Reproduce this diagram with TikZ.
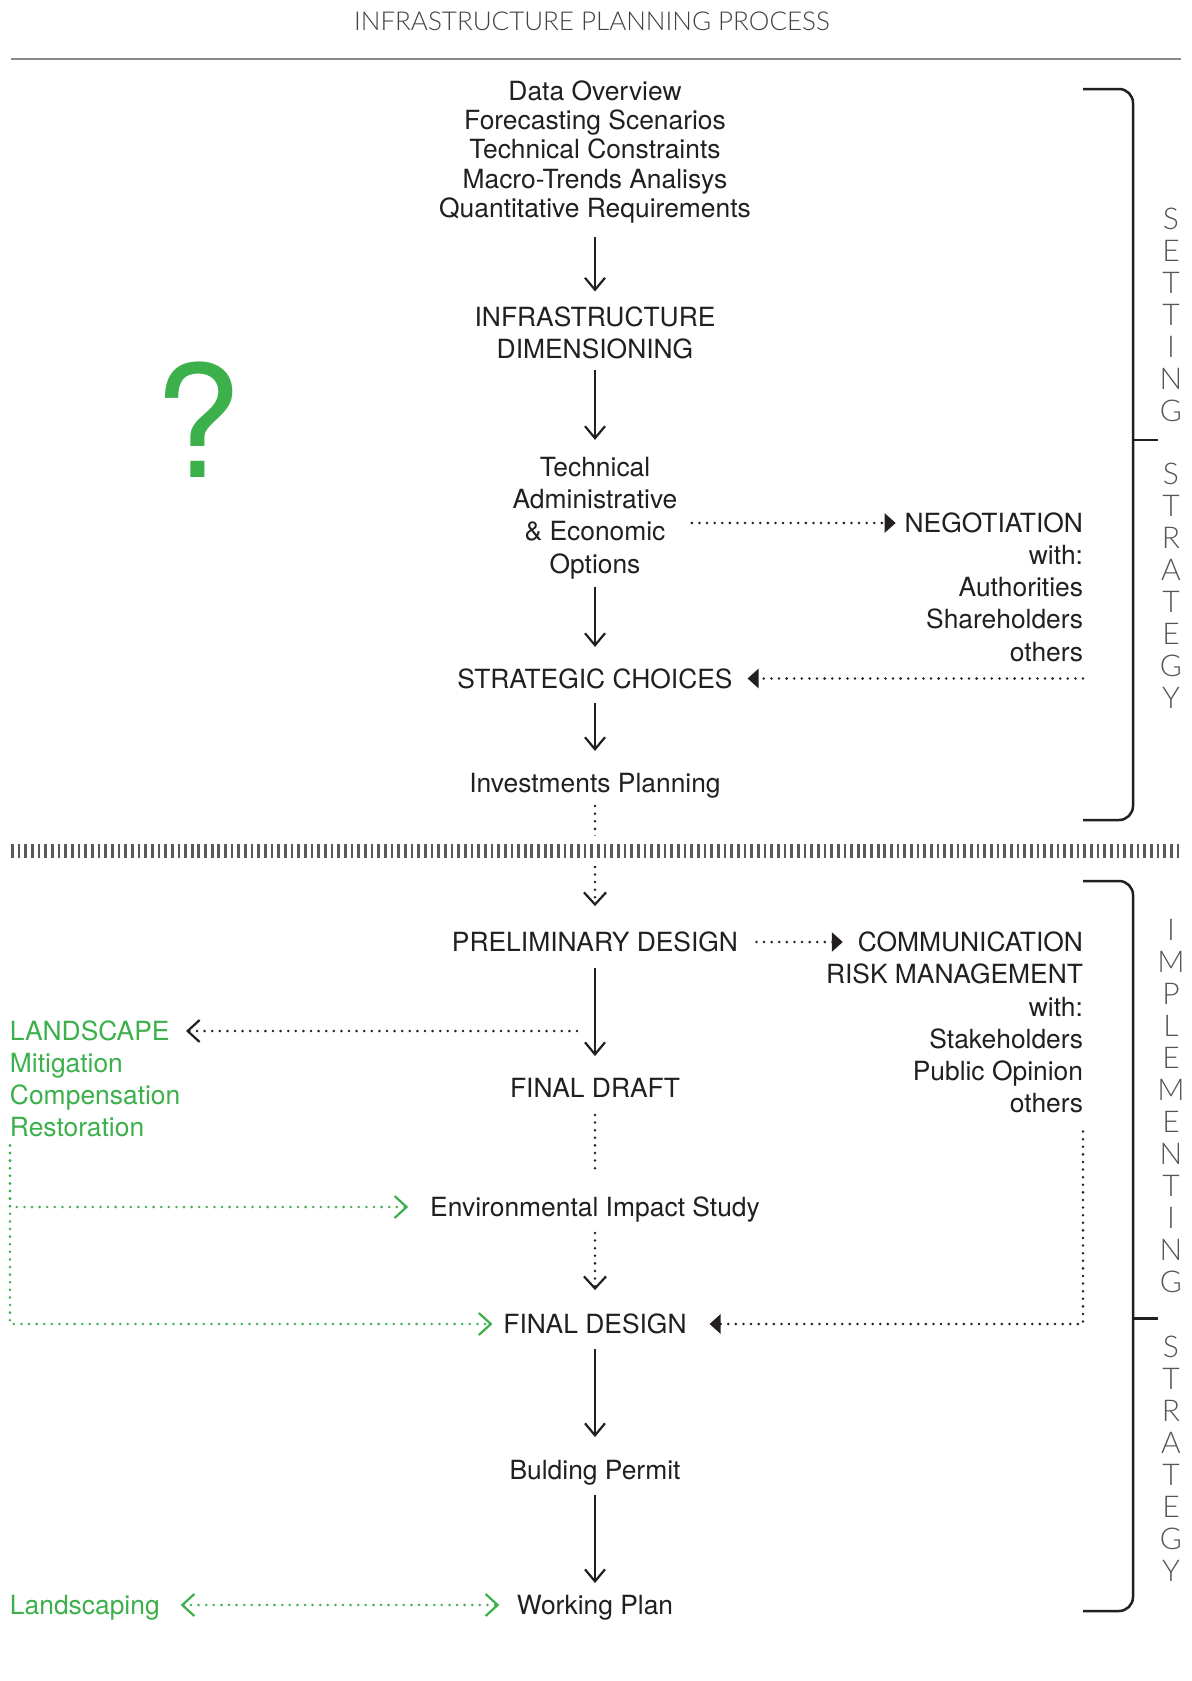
\documentclass[tikz,border=0pt]{standalone}
\usepackage{fontspec}
\setmainfont{TeX Gyre Heros}
\newfontfamily\thinfont{Lato Light}
\usetikzlibrary{arrows.meta}
\definecolor{ink}{HTML}{231F20}
\definecolor{leaf}{RGB}{60,176,75}
\definecolor{rulec}{HTML}{8A8A8A}
\definecolor{hatchc}{HTML}{5A5A5A}
\definecolor{sidec}{HTML}{555555}
\tikzset{
  txt/.style={inner sep=0pt, outer sep=0pt, text=ink, font={\fontsize{13.2}{16.1}\selectfont}},
  one/.style={txt, text height=9.75pt, text depth=0pt},
  multi/.style={txt, align=center},
  sidel/.style={inner sep=0pt, outer sep=0pt, align=center, text=sidec, font={\thinfont\fontsize{15}{16}\selectfont}},
  ttl/.style={inner sep=0pt, outer sep=0pt, text=ink!85, font={\thinfont\fontsize{13}{14}\selectfont}},
  qm/.style={inner sep=0pt, outer sep=0pt, text=leaf, font={\fontsize{78}{80}\selectfont}},
  arr/.style={draw=ink, line width=1.1pt, -{Straight Barb[length=6pt,width=10pt]}},
  dotl/.style={draw=ink, line width=1.4pt, line cap=round, dash pattern=on 0pt off 3.8pt},
  gdot/.style={draw=leaf, line width=1.4pt, line cap=round, dash pattern=on 0pt off 3.8pt},
  otip/.tip={Straight Barb[length=6pt,width=11pt,line width=1.1pt]},
  ftip/.tip={Triangle[length=5.5pt,width=9.5pt]},
  bracket/.style={draw=ink, line width=1.25pt, rounded corners=7pt}
}
\begin{document}
\begin{tikzpicture}[x=0.5pt,y=-0.5pt]
\useasboundingbox (0,0) rectangle (1191,1681);
\fill[white] (0,0) rectangle (1191,1681);

% title and top rule
\node[ttl] (title) at (592,21) {INFRASTRUCTURE PLANNING PROCESS};
\draw[rulec, line width=0.75pt] (11,59) -- (1181,59);

% upper part
\node[multi, font={\fontsize{13.2}{14.6}\selectfont}] (d1) at (595,152) {Data Overview\\Forecasting Scenarios\\Technical Constraints\\Macro-Trends Analisys\\Quantitative Requirements};
\node[multi] (dim) at (595,333) {INFRASTRUCTURE\\DIMENSIONING};
\node[multi] (opt) at (595,518) {Technical\\Administrative\\\& Economic\\Options};
\node[one] (sc) at (595,678.5) {STRATEGIC CHOICES};
\node[one] (inv) at (595,782.5) {Investments Planning};
\node[one, anchor=east] (neg) at (1083,523) {NEGOTIATION};
\node[multi, align=right, anchor=east] (negw) at (1083,603.3) {with:\\Authorities\\Shareholders\\others};
\node[qm] (q) at (198,420) {?};

\draw[arr, shorten <=6.7pt, shorten >=7.65pt] (d1) -- (dim);
\draw[arr, shorten <=5.6pt, shorten >=8.65pt] (dim) -- (opt);
\draw[arr, shorten <=4.3pt, shorten >=10.9pt] (opt) -- (sc);
\draw[arr, shorten <=7.4pt, shorten >=10.9pt] (sc) -- (inv);
\draw[dotl, -ftip, shorten <=7.25pt, shorten >=4.5pt] (opt.east |- neg) -- (neg.west);
\draw[dotl, -ftip, shorten >=7.5pt] (negw.east |- sc) -- (sc.east);

% lower part
\node[one] (pd) at (595,942) {PRELIMINARY DESIGN};
\node[one, anchor=east] (comm) at (1083,942) {COMMUNICATION};
\node[multi, align=right, anchor=east] (commw) at (1083,1038.7) {RISK MANAGEMENT\\with:\\Stakeholders\\Public Opinion\\others};
\node[one] (fd) at (595,1088) {FINAL DRAFT};
\node[one, text=leaf, anchor=west] (land) at (10,1031) {LANDSCAPE};
\node[multi, text=leaf, align=left, anchor=west] (landw) at (10,1095) {Mitigation\\Compensation\\Restoration};
\node[one] (env) at (595,1207) {Environmental Impact Study};
\node[one] (fdes) at (595,1324) {FINAL DESIGN};
\node[one] (bp) at (595,1470) {Bulding Permit};
\node[one] (wp) at (595,1605) {Working Plan};
\node[one, text=leaf, anchor=west] (lsc) at (10,1605) {Landscaping};
\coordinate (lsrc) at (577,1031);

\draw[dotl, -otip, shorten <=6.9pt, shorten >=13.1pt] (inv) -- (pd);
\draw[arr, shorten <=8.1pt, shorten >=11.1pt] (pd) -- (fd);
\draw[dotl, -ftip, shorten <=9.2pt, shorten >=7.5pt] (pd) -- (comm);
\draw[dotl, -otip, shorten >=8.25pt] (lsrc) -- (land.east);
\draw[dotl, shorten <=8.6pt, shorten >=11.1pt] (fd) -- (env);
\draw[dotl, -otip, shorten <=8.1pt, shorten >=12.1pt] (env) -- (fdes);
\draw[dotl, -ftip, shorten <=9.2pt, shorten >=11.5pt] (commw.south east) |- (fdes.east);
\draw[gdot, -otip, shorten <=4.2pt, shorten >=11pt] (landw.south west) |- (env.west);
\draw[gdot, -otip, shorten <=4.2pt, shorten >=5.5pt] (landw.south west) |- (fdes.west);
\draw[arr, shorten <=7.6pt, shorten >=11.6pt] (fdes) -- (bp);
\draw[arr, shorten <=7.6pt, shorten >=6.1pt] (bp) -- (wp);
\draw[gdot, otip-otip, shorten <=10.5pt, shorten >=8.8pt] (lsc.east) -- (wp.west);

% hatched separator
\fill[white] (0,836) rectangle (1191,866);
\draw[hatchc, line width=7pt, dash pattern=on 1.35pt off 1.98pt] (11,851) -- (1181,851);

% brackets
\draw[bracket] (1083,89) -- (1133,89) -- (1133,820) -- (1083,820);
\draw[draw=ink, line width=1.25pt] (1133,440) -- (1158,440);
\draw[bracket] (1083,881) -- (1133,881) -- (1133,1611) -- (1083,1611);
\draw[draw=ink, line width=1.25pt] (1133,1318.5) -- (1158,1318.5);

% side labels
\node[sidel] (s1) at (1171,315) {S\\E\\T\\T\\I\\N\\G};
\node[sidel] (s2) at (1171,586) {S\\T\\R\\A\\T\\E\\G\\Y};
\node[sidel] (s3) at (1171,1106) {I\\M\\P\\L\\E\\M\\E\\N\\T\\I\\N\\G};
\node[sidel] (s4) at (1171,1458.5) {S\\T\\R\\A\\T\\E\\G\\Y};
\end{tikzpicture}
\end{document}
